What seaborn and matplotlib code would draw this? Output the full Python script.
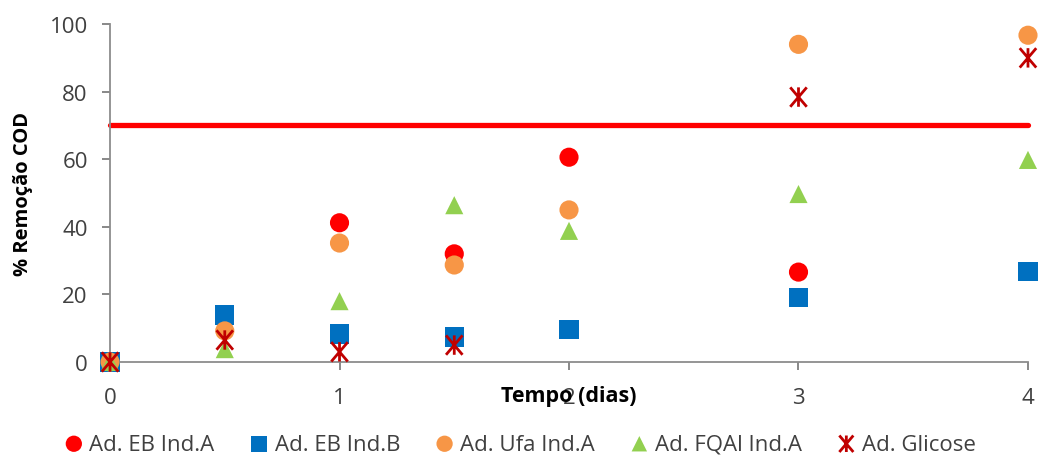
import numpy as np
import pandas as pd
import matplotlib
matplotlib.use("Agg")
import matplotlib.pyplot as plt
from matplotlib.path import Path
import seaborn as sns

# Sampling times (days) and % COD removal per adsorbent
tempo = [0, 0.5, 1, 1.5, 2, 3, 4]
eb_ind_a = [0, np.nan, 41.2, 32.0, 60.6, 26.6, np.nan]
eb_ind_b = [0, 13.9, 8.3, 7.4, 9.5, 19.2, 26.9]
ufa_ind_a = [0, 9.2, 35.2, 28.7, 45.0, 94.0, 96.7]
fqal_ind_a = [0, 3.8, 18.0, 46.4, 38.8, 49.7, 59.8]
glicose = [0, 6.5, 3.0, 5.0, np.nan, 78.4, 90.0]
limite = 70

# Star marker: an X crossed by a vertical stroke
star = Path([(-0.85, -1), (0.85, 1), (-0.85, 1), (0.85, -1), (0, -1), (0, 1)],
            [Path.MOVETO, Path.LINETO, Path.MOVETO, Path.LINETO, Path.MOVETO, Path.LINETO])

series_names = ["Ad. EB Ind.A", "Ad. EB Ind.B", "Ad. Ufa Ind.A", "Ad. FQAl Ind.A", "Ad. Glicose"]
series_vals = [eb_ind_a, eb_ind_b, ufa_ind_a, fqal_ind_a, glicose]
colors = ["#FF0000", "#0070C0", "#F79646", "#92D050", "#C00000"]
markers = ["o", "s", "o", "^", star]
sizes = [190, 190, 190, 170, 195]

sns.set_theme(style="white")
plt.rcParams["font.family"] = ["Open Sans", "DejaVu Sans"]

fig = plt.figure(figsize=(10.39, 4.56), dpi=100)
ax = fig.add_axes([0.1059, 0.204, 0.8835, 0.741])

# Target removal threshold
ax.plot([0, 4], [limite, limite], color="#FF0000", lw=3.8, zorder=1, clip_on=False)

for name, vals, c, m, s in zip(series_names, series_vals, colors, markers, sizes):
    df = pd.DataFrame({"Tempo": tempo, "Remocao": vals}).dropna()
    if isinstance(m, Path):
        sns.scatterplot(data=df, x="Tempo", y="Remocao", ax=ax, marker=m, s=s,
                        facecolor="none", edgecolor=c, linewidth=2.0, label=name,
                        clip_on=False, zorder=3)
    else:
        sns.scatterplot(data=df, x="Tempo", y="Remocao", ax=ax, marker=m, s=s,
                        color=c, edgecolor="none", label=name, clip_on=False, zorder=3)

ax.set_xlim(0, 4)
ax.set_ylim(0, 100)
ax.set_xticks([0, 1, 2, 3, 4])
ax.set_yticks([0, 20, 40, 60, 80, 100])
ax.tick_params(axis="both", labelsize=16, colors="#7F7F7F", length=6, width=1.3,
               direction="out", bottom=True, left=True)
ax.tick_params(axis="x", pad=12)
ax.tick_params(axis="y", pad=10)
for lbl in ax.get_xticklabels() + ax.get_yticklabels():
    lbl.set_color("#404040")

sns.despine(ax=ax)
for sp in ("left", "bottom"):
    ax.spines[sp].set_color("#8C8C8C")
    ax.spines[sp].set_linewidth(1.3)

ax.set_xlabel("Tempo (dias)", fontsize=15.5, fontweight="bold", color="#000000")
ax.xaxis.set_label_coords(0.5, -0.068)
ax.set_ylabel("% Remoção COD", fontsize=14.5, fontweight="bold", color="#000000", labelpad=12)

ax.legend(loc="center", bbox_to_anchor=(0.447, -0.243), ncol=5, frameon=False,
          fontsize=16, handlelength=0.8, handletextpad=0.3, columnspacing=1.6,
          markerscale=0.85, labelcolor="#404040", borderaxespad=0)

fig.savefig("out.png", dpi=100)
